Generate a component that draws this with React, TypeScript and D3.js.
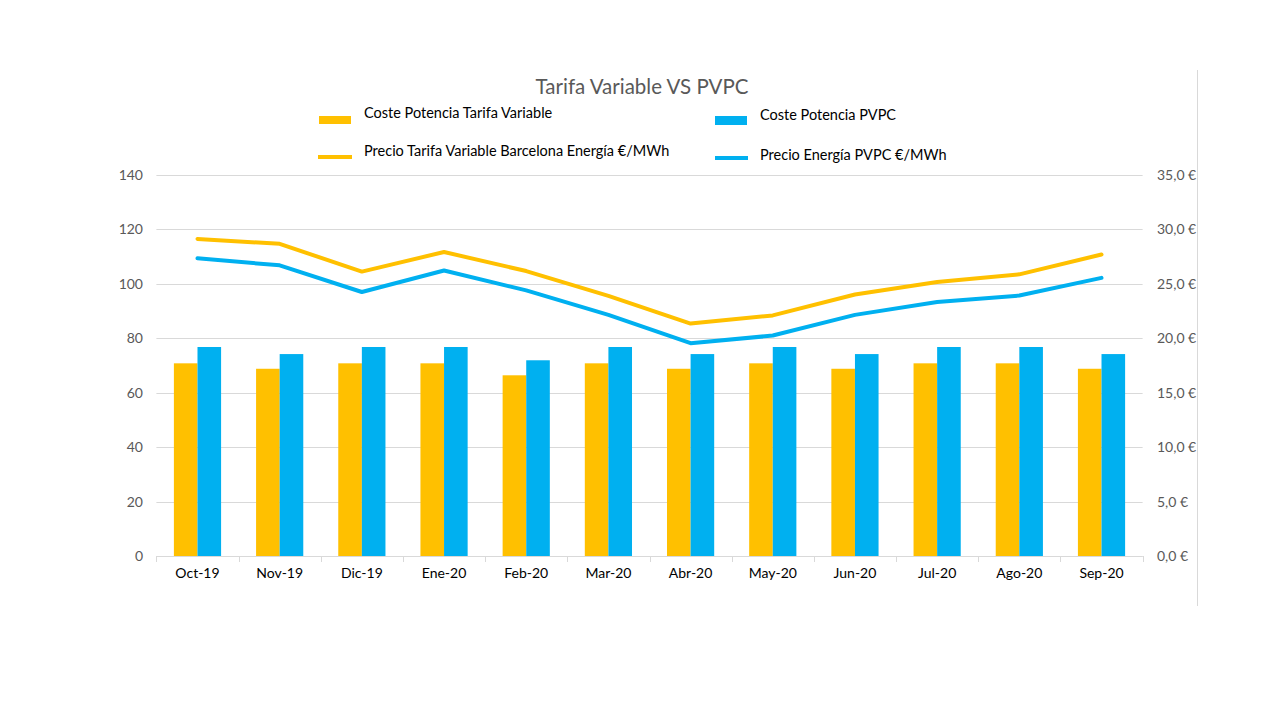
import React from "react";
import * as d3 from "d3";

const categories = ["Oct-19","Nov-19","Dic-19","Ene-20","Feb-20","Mar-20","Abr-20","May-20","Jun-20","Jul-20","Ago-20","Sep-20"];
const costeTarifaVariable = [17.7,17.2,17.7,17.7,16.6,17.7,17.2,17.7,17.2,17.7,17.7,17.2];
const costePVPC = [19.2,18.55,19.2,19.2,17.98,19.2,18.55,19.2,18.55,19.2,19.2,18.55];
const precioTarifaVariable = [116.5,114.7,104.5,111.7,104.7,95.6,85.4,88.4,96.1,100.7,103.5,110.8];
const precioPVPC = [109.4,106.8,97.0,104.9,97.6,88.6,78.2,81.0,88.6,93.3,95.7,102.2];
const leftTicks = [0,20,40,60,80,100,120,140];
const rightTicks = [0,5,10,15,20,25,30,35];

const ORANGE = "#FFC000";
const BLUE = "#00B0F0";
const FONT = "Lato, 'Open Sans', sans-serif";

export default function App() {
  const W = 1280, H = 720;
  const x0 = 156.4, x1 = 1142.6, yTop = 175, yBot = 556;
  const x = d3.scaleBand<string>().domain(categories).range([x0, x1]).paddingInner(0).paddingOuter(0);
  const yL = d3.scaleLinear().domain([0, 140]).range([yBot, yTop]);
  const yR = d3.scaleLinear().domain([0, 35]).range([yBot, yTop]);
  const bw = x.bandwidth();
  const barW = 23.6;
  const cx = (c: string) => (x(c) as number) + bw / 2;
  const line = d3.line<number>().x((_, i) => cx(categories[i])).y(d => yL(d));
  const fmtR = (v: number) => v.toFixed(1).replace(".", ",") + " €";

  return (
    <svg width={W} height={H} style={{ display: "block", position: "absolute", left: 0, top: 0 }}>
      <rect width={W} height={H} fill="#fff" />
      <line x1={1197.5} x2={1197.5} y1={70} y2={606} stroke="#d9d9d9" strokeWidth={1} />
      <text x={642} y={94} textAnchor="middle" fontFamily={FONT} fontSize={20.5} fill="#595959">Tarifa Variable VS PVPC</text>
      {/* legend */}
      <rect x={319} y={116} width={32} height={8} fill={ORANGE} />
      <text x={364} y={118} fontFamily={FONT} fontSize={14.5} fill="#000">Coste Potencia Tarifa Variable</text>
      <rect x={715} y={116} width={32} height={9} fill={BLUE} />
      <text x={760} y={120} fontFamily={FONT} fontSize={14.5} fill="#000">Coste Potencia PVPC</text>
      <line x1={318} x2={352} y1={157} y2={157} stroke={ORANGE} strokeWidth={4} />
      <text x={364} y={156} fontFamily={FONT} fontSize={14.5} fill="#000">Precio Tarifa Variable Barcelona Energía €/MWh</text>
      <line x1={715} x2={748} y1={158} y2={158} stroke={BLUE} strokeWidth={4} />
      <text x={760} y={160} fontFamily={FONT} fontSize={14.5} fill="#000">Precio Energía PVPC €/MWh</text>
      {/* gridlines */}
      {leftTicks.map(t => (
        <line key={t} x1={x0} x2={x1} y1={Math.round(yL(t)) + 0.5} y2={Math.round(yL(t)) + 0.5} stroke="#d9d9d9" strokeWidth={1} />
      ))}
      {leftTicks.map(t => (
        <text key={"l" + t} x={143} y={yL(t) + 5} textAnchor="end" fontFamily={FONT} fontSize={14} fill="#595959">{t}</text>
      ))}
      {rightTicks.map(t => (
        <text key={"r" + t} x={1157} y={yR(t) + 5} textAnchor="start" fontFamily={FONT} fontSize={14} fill="#595959">{fmtR(t)}</text>
      ))}
      {/* bars */}
      {categories.map((c, i) => (
        <g key={c}>
          <rect x={cx(c) - barW} y={yR(costeTarifaVariable[i])} width={barW} height={yBot - yR(costeTarifaVariable[i])} fill={ORANGE} />
          <rect x={cx(c)} y={yR(costePVPC[i])} width={barW} height={yBot - yR(costePVPC[i])} fill={BLUE} />
        </g>
      ))}
      {/* x axis */}
      <line x1={x0} x2={x1} y1={556.5} y2={556.5} stroke="#d9d9d9" strokeWidth={1} />
      {[...categories.map(c => x(c) as number), x1].map((t, i) => (
        <line key={"tk" + i} x1={Math.round(t) + 0.5} x2={Math.round(t) + 0.5} y1={556} y2={562} stroke="#d9d9d9" strokeWidth={1} />
      ))}
      {categories.map(c => (
        <text key={"x" + c} x={cx(c)} y={578} textAnchor="middle" fontFamily={FONT} fontSize={14} fill="#000">{c}</text>
      ))}
      {/* lines */}
      <path d={line(precioTarifaVariable) as string} fill="none" stroke={ORANGE} strokeWidth={4} strokeLinejoin="round" strokeLinecap="round" />
      <path d={line(precioPVPC) as string} fill="none" stroke={BLUE} strokeWidth={4} strokeLinejoin="round" strokeLinecap="round" />
    </svg>
  );
}
